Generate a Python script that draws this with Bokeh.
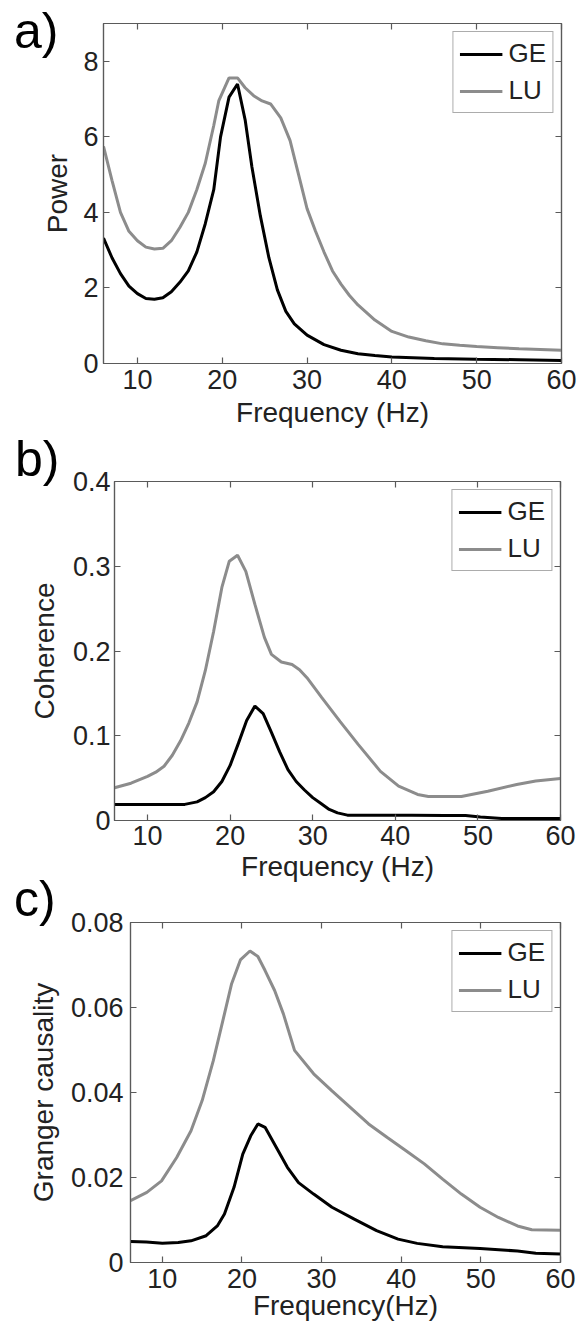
from bokeh.plotting import figure
from bokeh.models import (Range1d, LinearAxis, FixedTicker, Legend, LegendItem,
                          CustomJSTickFormatter, Div)
from bokeh.layouts import column
from bokeh.embed import file_html
from bokeh.resources import INLINE

FONT = "Liberation Sans"
GE_COLOR = "#000000"
LU_COLOR = "#8c8c8c"
AX_COLOR = "#5a5a5a"
TXT_COLOR = "#222222"

# ---------------- data ----------------
x_ticks = [10, 20, 30, 40, 50, 60]
x_tick_labels = ["10", "20", "30", "40", "50", "60"]

# a) Power
a_ge_f = [6.0, 7.0, 8.0, 9.0, 10.0, 11.0, 12.0, 13.0, 14.0, 15.0, 16.0, 17.0, 18.0, 19.0,
          19.8, 20.8, 21.8, 22.7, 23.5, 24.5, 25.5, 26.5, 27.5, 28.5, 30.0, 32.0, 34.0,
          36.0, 38.0, 40.0, 45.0, 50.0, 55.0, 60.0]
a_ge_p = [3.32, 2.80, 2.38, 2.05, 1.85, 1.72, 1.70, 1.74, 1.90, 2.15, 2.45, 2.95, 3.70, 4.60,
          6.00, 7.05, 7.40, 6.45, 5.20, 3.90, 2.80, 1.95, 1.38, 1.05, 0.75, 0.50, 0.35,
          0.26, 0.21, 0.17, 0.13, 0.11, 0.10, 0.08]
a_lu_f = [6.0, 7.0, 8.0, 9.0, 10.0, 11.0, 12.0, 13.0, 14.0, 15.0, 16.0, 17.0, 18.0, 19.0,
          19.6, 20.8, 21.8, 22.7, 23.7, 24.7, 25.7, 26.9, 28.0, 29.0, 30.0, 31.0, 32.0,
          33.0, 34.0, 35.0, 36.0, 38.0, 40.0, 42.0, 44.0, 46.0, 48.0, 50.0, 52.5, 55.0,
          57.5, 60.0]
a_lu_p = [5.75, 4.85, 4.00, 3.50, 3.25, 3.08, 3.03, 3.05, 3.25, 3.60, 4.00, 4.60, 5.30, 6.30,
          6.96, 7.56, 7.56, 7.30, 7.09, 6.95, 6.87, 6.50, 5.90, 5.00, 4.10, 3.50, 2.95,
          2.45, 2.10, 1.80, 1.55, 1.15, 0.85, 0.70, 0.60, 0.52, 0.48, 0.45, 0.42, 0.39,
          0.37, 0.35]
a_y_ticks = [0, 2, 4, 6, 8]
a_y_labels = ["0", "2", "4", "6", "8"]

# b) Coherence
b_ge_f = [6.0, 8.0, 10.0, 12.0, 14.5, 16.0, 17.0, 18.0, 19.0, 20.0, 21.0, 22.0, 23.0, 24.0,
          25.0, 26.0, 27.0, 28.0, 29.0, 30.0, 31.0, 32.0, 33.0, 34.2, 38.0, 42.0, 46.0,
          48.5, 50.3, 52.9, 56.0, 60.0]
b_ge_c = [0.019, 0.019, 0.019, 0.019, 0.019, 0.022, 0.027, 0.034, 0.046, 0.065, 0.091, 0.118,
          0.135, 0.126, 0.104, 0.081, 0.060, 0.046, 0.036, 0.027, 0.020, 0.013, 0.009, 0.0063,
          0.0063, 0.0063, 0.006, 0.006, 0.004, 0.0024, 0.0024, 0.0024]
b_lu_f = [6.0, 8.0, 10.0, 11.0, 12.0, 13.0, 14.0, 15.0, 16.0, 17.0, 18.0, 19.0, 19.9, 20.9,
          21.9, 23.0, 24.15, 25.0, 26.2, 27.5, 28.4, 29.3, 31.1, 33.3, 35.5, 38.2, 40.4,
          42.7, 44.0, 48.0, 51.2, 54.7, 57.0, 60.0]
b_lu_c = [0.0386, 0.044, 0.052, 0.057, 0.064, 0.077, 0.094, 0.115, 0.140, 0.177, 0.223,
          0.275, 0.306, 0.313, 0.294, 0.255, 0.216, 0.196, 0.187, 0.184, 0.178, 0.1685,
          0.145, 0.117, 0.0898, 0.058, 0.0406, 0.0307, 0.0283, 0.0283, 0.0346, 0.0425,
          0.0465, 0.0496]
b_y_ticks = [0, 0.1, 0.2, 0.3, 0.4]
b_y_labels = ["0", "0.1", "0.2", "0.3", "0.4"]

# c) Granger causality
c_ge_f = [6.0, 8.0, 10.0, 12.0, 13.6, 15.5, 16.9, 17.8, 19.0, 20.1, 21.1, 22.0, 22.9, 24.3,
          25.7, 27.1, 29.0, 31.3, 34.1, 36.9, 39.6, 42.0, 45.2, 49.9, 54.6, 56.9, 60.0]
c_ge_g = [0.00495, 0.0048, 0.00455, 0.0047, 0.0051, 0.0063, 0.0086, 0.0114, 0.0177, 0.0255,
          0.0298, 0.0326, 0.0318, 0.0271, 0.0224, 0.0188, 0.0161, 0.0130, 0.0102, 0.0075,
          0.0055, 0.0045, 0.0037, 0.0033, 0.0027, 0.0022, 0.0020]
c_lu_f = [6.0, 8.05, 9.9, 11.8, 13.6, 15.0, 16.4, 17.8, 18.7, 19.8, 21.0, 22.0, 22.9, 24.1,
          25.2, 26.6, 29.0, 31.3, 33.6, 35.9, 38.25, 40.6, 42.9, 45.2, 47.55, 49.9, 52.2,
          54.6, 56.4, 60.0]
c_lu_g = [0.01452, 0.0165, 0.0192, 0.0247, 0.031, 0.0381, 0.0475, 0.0585, 0.0656, 0.0712,
          0.0733, 0.072, 0.0687, 0.064, 0.0585, 0.0499, 0.0444, 0.0404, 0.0365, 0.0326,
          0.0294, 0.0263, 0.0232, 0.0196, 0.0161, 0.0130, 0.0106, 0.0086, 0.0077, 0.0076]
c_y_ticks = [0, 0.02, 0.04, 0.06, 0.08]
c_y_labels = ["0", "0.02", "0.04", "0.06", "0.08"]

series_names = ["GE", "LU"]
panel_tags = ["a)", "b)", "c)"]

LABEL_JS = """
for (let i = 0; i < tick_vals.length; i++) {
  if (Math.abs(tick_vals[i] - tick) < 1e-9) { return tick_text[i]; }
}
return "";
"""


def fmt(ticks, labels):
    return CustomJSTickFormatter(args=dict(tick_vals=ticks, tick_text=labels), code=LABEL_JS)


def style_axis(ax, ticks, labels, show_labels=True):
    ax.ticker = FixedTicker(ticks=ticks)
    ax.axis_line_color = AX_COLOR
    ax.axis_line_width = 1.2
    ax.major_tick_line_color = AX_COLOR
    ax.major_tick_line_width = 1.2
    ax.major_tick_in = 6
    ax.major_tick_out = 0
    ax.minor_tick_line_color = None
    ax.major_label_text_font = FONT
    ax.major_label_text_color = TXT_COLOR
    ax.axis_label_text_font = FONT
    ax.axis_label_text_font_style = "normal"
    ax.axis_label_text_color = TXT_COLOR
    ax.axis_label_text_font_size = "28px"
    if show_labels:
        ax.formatter = fmt(ticks, labels)
        ax.major_label_text_font_size = "27px"
    else:
        ax.formatter = CustomJSTickFormatter(code="return '';")
        ax.major_label_text_font_size = "0px"
        ax.major_label_standoff = 0


def make_panel(ylabel, xlabel, ymax, yticks, ylabels, ge_f, ge_v, lu_f, lu_v,
               height, bl, br, bt, bb, x_sd, x_lsd, y_sd, y_lsd):
    p = figure(width=578, height=height, x_range=Range1d(6, 60), y_range=Range1d(0, ymax),
               output_backend="svg", toolbar_location=None, frame_align=False,
               min_border_left=bl, min_border_right=br, min_border_top=bt,
               min_border_bottom=bb)
    p.xgrid.visible = False
    p.ygrid.visible = False
    p.outline_line_color = AX_COLOR
    p.outline_line_width = 1.2
    p.background_fill_color = "white"
    p.border_fill_color = "white"

    xa = p.xaxis[0]
    style_axis(xa, x_ticks, x_tick_labels)
    xa.axis_label = xlabel
    xa.major_label_standoff = x_sd
    xa.axis_label_standoff = x_lsd

    ya = p.yaxis[0]
    style_axis(ya, yticks, ylabels)
    ya.axis_label = ylabel
    ya.major_label_standoff = y_sd
    ya.axis_label_standoff = y_lsd

    top = LinearAxis()
    style_axis(top, x_ticks, x_tick_labels, show_labels=False)
    p.add_layout(top, "above")
    right = LinearAxis()
    style_axis(right, yticks, ylabels, show_labels=False)
    p.add_layout(right, "right")

    r_ge = p.line(ge_f, ge_v, line_color=GE_COLOR, line_width=3)
    r_lu = p.line(lu_f, lu_v, line_color=LU_COLOR, line_width=3)

    legend = Legend(items=[LegendItem(label=series_names[0], renderers=[r_ge]),
                           LegendItem(label=series_names[1], renderers=[r_lu])],
                    location="top_right")
    legend.label_text_font = FONT
    legend.label_text_font_size = "26px"
    legend.label_text_color = TXT_COLOR
    legend.glyph_width = 43
    legend.glyph_height = 28
    legend.label_height = 28
    legend.label_standoff = 6
    legend.spacing = 6
    legend.padding = 6
    legend.margin = 8
    legend.border_line_color = AX_COLOR
    legend.border_line_width = 1.5
    legend.background_fill_color = "white"
    legend.background_fill_alpha = 1.0
    p.add_layout(legend)
    return p


def tag_div(text, left, top):
    # zero-height overlay holding the panel letter; it takes no room in the column
    return Div(text=text, width=60, height=0, margin=0,
               styles={"position": "relative", "z-index": "10", "left": f"{left}px",
                       "top": f"{top}px", "font-family": FONT, "font-size": "50px",
                       "line-height": "1", "overflow": "visible", "color": "#000000"})


pa = make_panel("Power", "Frequency (Hz)", 9, a_y_ticks, a_y_labels,
                a_ge_f, a_ge_p, a_lu_f, a_lu_p,
                height=440, bl=103, br=17, bt=23, bb=77, x_sd=6, x_lsd=5, y_sd=5, y_lsd=7)
pb = make_panel("Coherence", "Frequency (Hz)", 0.4, b_y_ticks, b_y_labels,
                b_ge_f, b_ge_c, b_lu_f, b_lu_c,
                height=448, bl=114, br=18, bt=41, bb=68, x_sd=5, x_lsd=3, y_sd=4, y_lsd=10)
pc = make_panel("Granger causality", "Frequency(Hz)", 0.08, c_y_ticks, c_y_labels,
                c_ge_f, c_ge_g, c_lu_f, c_lu_g,
                height=442, bl=130, br=18, bt=34, bb=68, x_sd=6, x_lsd=-1, y_sd=7, y_lsd=9)

layout = column(tag_div(panel_tags[0], 14, 6), pa,
                tag_div(panel_tags[1], 15, -6), pb,
                tag_div(panel_tags[2], 14, -14), pc, spacing=0)
open("out.html", "w").write(file_html(layout, INLINE))
